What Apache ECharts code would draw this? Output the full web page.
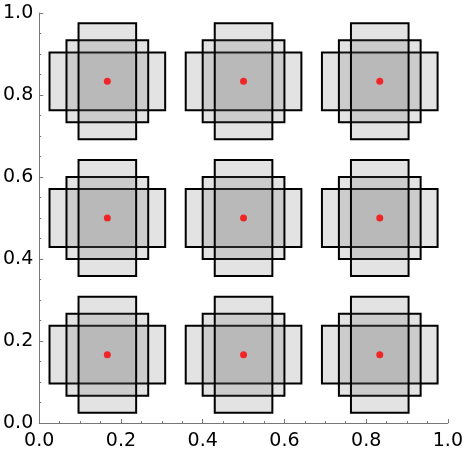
<!DOCTYPE html>
<html>
<head>
<meta charset="utf-8">
<script src="https://cdn.jsdelivr.net/npm/echarts@6/dist/echarts.min.js"></script>
<style>html,body{margin:0;padding:0;background:#fff;}#c{width:466px;height:454px;}</style>
</head>
<body>
<div id="c"></div>
<script>
// Cell centres (x and y)
const centersX = [0.1667, 0.5, 0.8333];
const centersY = [0.1667, 0.5, 0.8333];
// Rectangle sizes per cell: wide, square, tall
const rectW = [0.283, 0.2, 0.141];
const rectH = [0.141, 0.2, 0.283];
// Tick labels
const tickLabels = ['0.0', '0.2', '0.4', '0.6', '0.8', '1.0'];

const rectData = [];
const pointData = [];
centersY.forEach(cy => {
  centersX.forEach(cx => {
    pointData.push([cx, cy]);
    rectW.forEach((w, i) => rectData.push([cx, cy, w, rectH[i]]));
  });
});

const axisCommon = {
  type: 'value', min: 0, max: 1, interval: 0.2,
  axisLine: { show: true, onZero: false, lineStyle: { color: '#777', width: 1 } },
  axisTick: { show: true, inside: true, length: 4, lineStyle: { color: '#777', width: 1 } },
  minorTick: { show: true, splitNumber: 4, length: 2, lineStyle: { color: '#777', width: 1 } },
  splitLine: { show: false },
  axisLabel: {
    color: '#000', fontFamily: 'DejaVu Sans', fontSize: 19,
    formatter: v => tickLabels[Math.round(v / 0.2)]
  }
};

const chart = echarts.init(document.getElementById('c'), null, { renderer: 'canvas' });
chart.setOption({
  animation: false,
  backgroundColor: '#fff',
  grid: { left: 39, right: 18, top: 13, bottom: 31 },
  xAxis: Object.assign({}, axisCommon, { axisLabel: Object.assign({}, axisCommon.axisLabel, { margin: 9 }) }),
  yAxis: Object.assign({}, axisCommon, { axisLabel: Object.assign({}, axisCommon.axisLabel, { margin: 6 }) }),
  series: [
    {
      type: 'custom',
      data: rectData,
      renderItem: (params, api) => {
        const cx = api.value(0), cy = api.value(1), w = api.value(2), h = api.value(3);
        const p0 = api.coord([cx - w / 2, cy + h / 2]);
        const p1 = api.coord([cx + w / 2, cy - h / 2]);
        return {
          type: 'rect',
          shape: { x: p0[0], y: p0[1], width: p1[0] - p0[0], height: p1[1] - p0[1] },
          style: { fill: 'rgba(100,100,100,0.18)', stroke: '#000', lineWidth: 2 }
        };
      },
      z: 2
    },
    {
      type: 'scatter',
      data: pointData,
      symbol: 'circle',
      symbolSize: 7,
      itemStyle: { color: '#ff0000' },
      z: 5
    }
  ]
});
</script>
</body>
</html>
